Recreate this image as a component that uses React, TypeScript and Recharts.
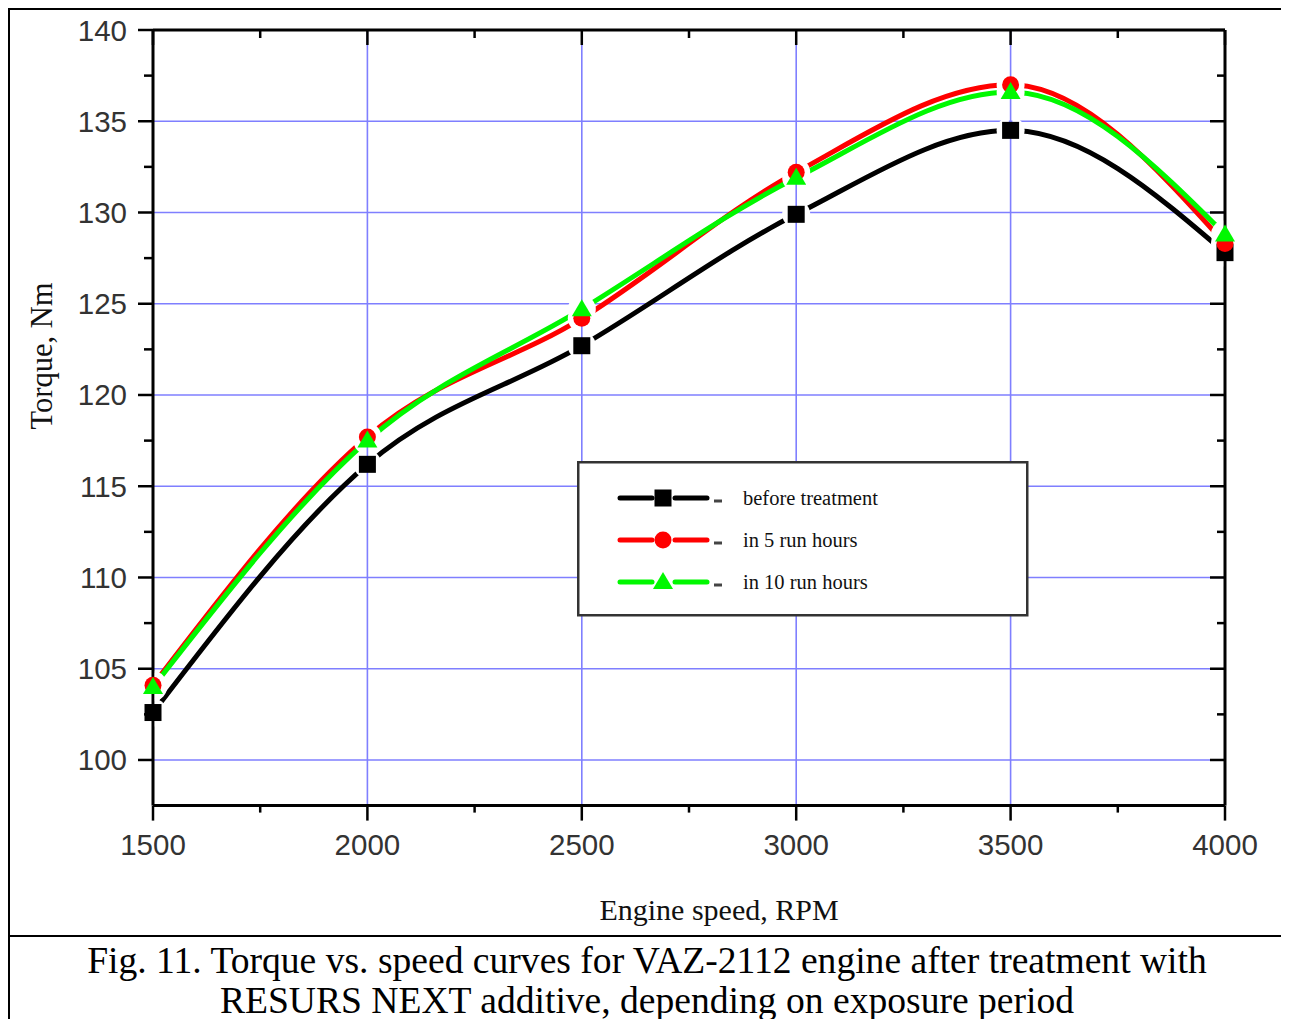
import React from 'react';
import { ComposedChart, Line, Scatter, XAxis, YAxis, CartesianGrid, Legend, Label } from 'recharts';

// ---- data ----
const rpm = [1500, 2000, 2500, 3000, 3500, 4000];
const beforeTreatment = [102.6, 116.2, 122.7, 129.9, 134.5, 127.8];
const after5Hours = [104.1, 117.7, 124.2, 132.2, 137.0, 128.3];
const after10Hours = [104.0, 117.5, 124.7, 131.9, 136.6, 128.8];

const seriesKeys = ['before', 'h5', 'h10'];
const seriesNames = ['before treatment', 'in 5 run hours', 'in 10 run hours'];
const seriesColors = ['#000000', '#ff0000', '#00f800'];
const seriesShapes = ['square', 'circle', 'triangle'];

const xMajorTicks = [1500, 2000, 2500, 3000, 3500, 4000];
const xMinorTicks = [1750, 2250, 2750, 3250, 3750];
const yMajorTicks = [100, 105, 110, 115, 120, 125, 130, 135, 140];
const yMinorTicks = [102.5, 107.5, 112.5, 117.5, 122.5, 127.5, 132.5, 137.5];
const xGridValues = [2000, 2500, 3000, 3500];
const yGridValues = [100, 105, 110, 115, 120, 125, 130, 135];
const xDomain = [1500, 4000];
const yDomain = [97.5, 140];

const xAxisTitle = 'Engine speed, RPM';
const yAxisTitle = 'Torque, Nm';
const captionLine1 = 'Fig. 11. Torque vs. speed curves for VAZ-2112 engine after treatment with';
const captionLine2 = 'RESURS NEXT additive, depending on exposure period';

const data = rpm.map((r, i) => ({
  rpm: r,
  before: beforeTreatment[i],
  h5: after5Hours[i],
  h10: after10Hours[i],
}));

const allXTicks = [...xMajorTicks, ...xMinorTicks].sort((a, b) => a - b);
const allYTicks = [...yMajorTicks, ...yMinorTicks].sort((a, b) => a - b);

const SANS = '"Liberation Sans", Arial, sans-serif';
const SERIF = '"Liberation Serif", "Times New Roman", serif';
const TICK_FONT = 29.5;
const AX = '#000';
const HALO_R = 14;

const BottomTick = (props: any) => {
  const { x, y, payload } = props;
  const major = xMajorTicks.includes(payload.value);
  return (
    <g>
      <line x1={x} x2={x} y1={y} y2={y + (major ? 15 : 7)} stroke={AX} strokeWidth={2.5} />
      {major && (
        <text x={x} y={y + 49} textAnchor="middle" fontFamily={SANS} fontSize={TICK_FONT} fill="#333">
          {payload.value}
        </text>
      )}
    </g>
  );
};

const TopTick = (props: any) => {
  const { x, y, payload } = props;
  const major = xMajorTicks.includes(payload.value);
  return <line x1={x} x2={x} y1={y} y2={y + (major ? 15 : 8)} stroke={AX} strokeWidth={2.5} />;
};

const LeftTick = (props: any) => {
  const { x, y, payload } = props;
  const major = yMajorTicks.includes(payload.value);
  return (
    <g>
      <line x1={x - (major ? 15 : 9)} x2={x} y1={y} y2={y} stroke={AX} strokeWidth={2.5} />
      {major && (
        <text x={x - 26} y={y + 10.5} textAnchor="end" fontFamily={SANS} fontSize={TICK_FONT} fill="#333">
          {payload.value}
        </text>
      )}
    </g>
  );
};

const RightTick = (props: any) => {
  const { x, y, payload } = props;
  const major = yMajorTicks.includes(payload.value);
  return <line x1={x - (major ? 15 : 8)} x2={x} y1={y} y2={y} stroke={AX} strokeWidth={2.5} />;
};

const drawMarker = (shape: string, color: string, cx: number, cy: number, key?: any) => {
  if (shape === 'square') {
    return <rect key={key} x={cx - 8.5} y={cy - 8.5} width={17} height={17} fill={color} />;
  }
  if (shape === 'circle') {
    return <circle key={key} cx={cx} cy={cy} r={8.5} fill={color} />;
  }
  return (
    <polygon
      key={key}
      points={`${cx},${cy - 10} ${cx + 10},${cy + 7} ${cx - 10},${cy + 7}`}
      fill={color}
    />
  );
};

const makeMarkerShape = (idx: number) => (props: any) => {
  const { cx, cy } = props;
  if (cx == null || cy == null) return <g />;
  return <g>{drawMarker(seriesShapes[idx], seriesColors[idx], cx, cy)}</g>;
};

// white halo that leaves a thin slit on the vertical axis/grid line through the point
const haloShape = (props: any) => {
  const { cx, cy, payload } = props;
  if (cx == null || cy == null) return <g />;
  const r = HALO_R;
  const s = 1.8;
  const h = Math.sqrt(r * r - s * s);
  const atLeft = payload && payload.rpm === xDomain[0];
  const atRight = payload && payload.rpm === xDomain[1];
  const rightHalf = `M${cx + s},${cy - h} A${r},${r} 0 0 1 ${cx + s},${cy + h} Z`;
  const leftHalf = `M${cx - s},${cy - h} A${r},${r} 0 0 0 ${cx - s},${cy + h} Z`;
  return (
    <g>
      {!atRight && <path d={rightHalf} fill="#ffffff" />}
      {!atLeft && <path d={leftHalf} fill="#ffffff" />}
    </g>
  );
};

const LegendBox = () => {
  const rowsY = [37, 79, 121];
  return (
    <svg width={452} height={156} style={{ display: 'block' }}>
      <rect x={1.25} y={1.25} width={449} height={153} fill="#fff" stroke="#333" strokeWidth={2.5} />
      {seriesNames.map((name, idx) => {
        const cy = rowsY[idx];
        const color = seriesColors[idx];
        return (
          <g key={name}>
            <line x1={43} x2={75} y1={cy} y2={cy} stroke={color} strokeWidth={5} strokeLinecap="round" />
            <line x1={98} x2={130} y1={cy} y2={cy} stroke={color} strokeWidth={5} strokeLinecap="round" />
            {drawMarker(seriesShapes[idx], color, 86, cy)}
            <line x1={137} x2={145} y1={cy + 3} y2={cy + 3} stroke="#444" strokeWidth={3} />
            <text x={166} y={cy + 7} fontFamily={SERIF} fontSize={20.5} fill="#111">
              {name}
            </text>
          </g>
        );
      })}
    </svg>
  );
};

export default function App() {
  const chartW = 1274;
  const chartH = 925;
  return (
    <div
      style={{
        position: 'relative',
        width: 1278,
        height: 1100,
        boxSizing: 'border-box',
        border: '2px solid #000',
        background: '#fff',
      }}
    >
      <ComposedChart
        width={chartW}
        height={chartH}
        data={data}
        margin={{ top: 19, right: 58, left: 0, bottom: 128.4 }}
      >
        <CartesianGrid
          horizontal
          vertical
          horizontalValues={yGridValues}
          verticalValues={xGridValues}
          stroke="#7f7fff"
          strokeWidth={1.6}
        />
        <XAxis
          dataKey="rpm"
          type="number"
          domain={xDomain}
          ticks={allXTicks}
          interval={0}
          height={1}
          tickSize={0}
          tickMargin={0}
          tickLine={false}
          tick={<BottomTick />}
          axisLine={{ stroke: AX, strokeWidth: 3 }}
        >
          <Label
            content={(p: any) => {
              const vb = p.viewBox || {};
              return (
                <text
                  x={vb.x + vb.width / 2 + 30}
                  y={vb.y + 114}
                  textAnchor="middle"
                  fontFamily={SERIF}
                  fontSize={30}
                  fill="#111"
                >
                  {xAxisTitle}
                </text>
              );
            }}
          />
        </XAxis>
        <XAxis
          xAxisId="top"
          orientation="top"
          dataKey="rpm"
          type="number"
          domain={xDomain}
          ticks={allXTicks}
          interval={0}
          height={1}
          tickSize={0}
          tickMargin={0}
          tickLine={false}
          tick={<TopTick />}
          axisLine={{ stroke: AX, strokeWidth: 3 }}
        />
        <YAxis
          type="number"
          domain={yDomain}
          ticks={allYTicks}
          interval={0}
          width={143}
          tickSize={0}
          tickMargin={0}
          tickLine={false}
          tick={<LeftTick />}
          axisLine={{ stroke: AX, strokeWidth: 3 }}
          allowDataOverflow
        >
          <Label
            content={() => (
              <text
                x={32}
                y={346}
                transform="rotate(-90 32 346)"
                textAnchor="middle"
                dominantBaseline="central"
                fontFamily={SERIF}
                fontSize={30.5}
                fill="#111"
              >
                {yAxisTitle}
              </text>
            )}
          />
        </YAxis>
        <YAxis
          yAxisId="right"
          orientation="right"
          type="number"
          domain={yDomain}
          ticks={allYTicks}
          interval={0}
          width={1}
          tickSize={0}
          tickMargin={0}
          tickLine={false}
          tick={<RightTick />}
          axisLine={{ stroke: AX, strokeWidth: 3 }}
          allowDataOverflow
        />

        {seriesKeys.map((k, i) => (
          <Line
            key={`curve-${k}`}
            type="monotone"
            dataKey={k}
            name={seriesNames[i]}
            stroke={seriesColors[i]}
            strokeWidth={5}
            dot={false}
            activeDot={false}
            isAnimationActive={false}
          />
        ))}
        {seriesKeys.map((k) => (
          <Scatter
            key={`halo-${k}`}
            dataKey={k}
            shape={haloShape}
            legendType="none"
            isAnimationActive={false}
          />
        ))}
        {seriesKeys.map((k, i) => (
          <Scatter
            key={`marker-${k}`}
            dataKey={k}
            shape={makeMarkerShape(i)}
            legendType="none"
            isAnimationActive={false}
          />
        ))}
        <Legend
          layout="vertical"
          align="center"
          verticalAlign="middle"
          content={<LegendBox />}
          wrapperStyle={{ position: 'absolute', left: 567, top: 451, width: 452, height: 156 }}
        />
      </ComposedChart>
      <div
        style={{
          position: 'absolute',
          left: 0,
          top: 925,
          width: 1274,
          borderTop: '2.5px solid #000',
          paddingTop: 4,
          textAlign: 'center',
          fontFamily: SERIF,
          fontSize: 37.6,
          lineHeight: '40px',
          color: '#000',
        }}
      >
        <div>{captionLine1}</div>
        <div>{captionLine2}</div>
      </div>
    </div>
  );
}
